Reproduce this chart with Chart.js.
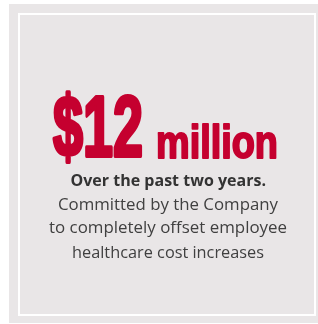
<!DOCTYPE html>
<html>
<head>
<meta charset="utf-8">
<script src="https://cdn.jsdelivr.net/npm/chart.js@4.4.0/dist/chart.umd.min.js"></script>
<style>
  html, body { margin: 0; padding: 0; background: #ffffff; }
  #wrap { width: 318px; height: 324px; }
</style>
</head>
<body>
<div id="wrap"><canvas id="c" width="318" height="324"></canvas></div>
<script>
// ---- data ----
const amountValue = [12];
const amountPrefix = ["$"];
const amountUnit = ["million"];
const headline = ["Over the past two years."];
const bodyLines = ["Committed by the Company", "to completely offset employee", "healthcare cost increases"];

const RED = '#c5002f';
const BG = '#e9e6e7';

function fitText(ctx, text, font, left, right, baseline, color, stroke) {
  ctx.save();
  ctx.font = font;
  ctx.fillStyle = color;
  ctx.strokeStyle = color;
  ctx.lineJoin = 'round';
  ctx.textBaseline = 'alphabetic';
  ctx.textAlign = 'left';
  const s = stroke || 0;
  const w = ctx.measureText(text).width;
  const sx = (right - left - s) / w;
  ctx.translate(left + s / 2, baseline - s / 2);
  ctx.scale(sx, 1);
  ctx.fillText(text, 0, 0);
  if (s) { ctx.lineWidth = s; ctx.strokeText(text, 0, 0); }
  ctx.restore();
}

const infoPlugin = {
  id: 'info',
  beforeDraw(chart) {
    const ctx = chart.ctx;
    ctx.save();
    ctx.fillStyle = '#ffffff';
    ctx.fillRect(0, 0, chart.width, chart.height);
    ctx.fillStyle = BG;
    ctx.fillRect(9, 4, 309, 319);
    ctx.strokeStyle = '#ffffff';
    ctx.lineWidth = 2;
    ctx.strokeRect(19, 14, 296, 301);
    ctx.restore();
  },
  afterDraw(chart) {
    const ctx = chart.ctx;
    const big = amountPrefix[0] + amountValue[0];
    fitText(ctx, big, 'bold 86px "Liberation Sans"', 51, 145, 158, RED, 4);
    fitText(ctx, amountUnit[0], 'bold 46px "Liberation Sans"', 155, 279, 159, RED, 2);
    fitText(ctx, headline[0], 'bold 15.8px "Open Sans"', 70.5, 266, 186, '#333333');
    const spans = [[58, 278, 210], [49, 287, 233], [72, 264, 257.5]];
    bodyLines.forEach((t, i) => {
      fitText(ctx, t, '16.8px "Open Sans"', spans[i][0], spans[i][1], spans[i][2], '#404040');
    });
  }
};

new Chart(document.getElementById('c'), {
  type: 'bar',
  data: { labels: [''], datasets: [{ data: amountValue, backgroundColor: 'rgba(0,0,0,0)', borderWidth: 0 }] },
  options: {
    responsive: false,
    animation: false,
    events: [],
    plugins: { legend: { display: false }, tooltip: { enabled: false }, title: { display: false } },
    scales: { x: { display: false }, y: { display: false } },
    layout: { padding: 0 }
  },
  plugins: [infoPlugin]
});
</script>
</body>
</html>
